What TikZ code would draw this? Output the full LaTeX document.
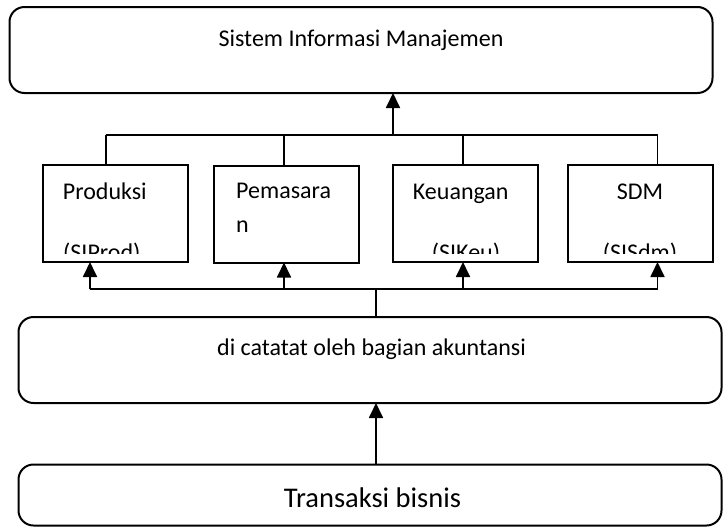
\documentclass[tikz,border=0pt]{standalone}
\usepackage{fontspec}
\setmainfont{Carlito}
\usetikzlibrary{arrows.meta}
\tikzset{
  kotak/.style={draw,line width=2pt,inner sep=0pt,outer sep=0pt,minimum width=145pt,minimum height=97pt},
  kotakbulat/.style={draw,line width=2pt,rounded corners=15pt,inner sep=0pt,outer sep=0pt,minimum width=703pt},
  garis/.style={line width=1.8pt},
  panah/.style={line width=1.8pt,-{Triangle[width=14pt,length=15pt]}},
  teks/.style={inner sep=0pt,font=\fontsize{24}{29}\selectfont}
}
\begin{document}
\begin{tikzpicture}
        [x=1pt,y=-1pt]
        \useasboundingbox (0,0) rectangle (723,528);
        \node[kotakbulat,minimum height=86pt] (SIM) at (361,50) {};
        \node[kotak] (Prod) at (115,213.5) {};
        \node[kotak] (Pem) at (286.5,214) {};
        \node[kotak] (Keu) at (465,213.5) {};
        \node[kotak] (SDM) at (640.5,213.5) {};
        \node[kotakbulat,minimum height=86pt] (Akt) at (370,360) {};
        \node[kotakbulat,minimum height=61pt] (Trx) at (370,495) {};

        \node[teks,anchor=base] (tSIM) at (361,46) {Sistem Informasi Manajemen};
        \node[teks,anchor=base] (tAkt) at (371.5,355) {di catatat oleh bagian akuntansi};
        \node[teks,anchor=base,font=\fontsize{28.5}{34}\selectfont] (tTrx) at (372.5,507.5) {Transaksi bisnis};

        \begin{scope}
          \clip (42,164) rectangle (188,253) (213,164) rectangle (360,253)
                (392,164) rectangle (538,253) (567,164) rectangle (714,253);
          \node[teks,anchor=base west] (tProd) at (62.7,199) {Produksi};
          \node[teks,anchor=base west] (tProd2) at (63,260.5) {(SIProd)};
          \node[teks,anchor=base west] (tPem) at (236,198) {Pemasara};
          \node[teks,anchor=base west] (tPem2) at (236,232.5) {n};
          \node[teks,anchor=base west] (tKeu) at (412.7,199) {Keuangan};
          \node[teks,anchor=base] (tKeu2) at (466,260.5) {(SIKeu)};
          \node[teks,anchor=base] (tSDM) at (640,199) {SDM};
          \node[teks,anchor=base] (tSDM2) at (640,260.5) {(SISdm)};
        \end{scope}

        % ke atas: Sistem Informasi Manajemen
        \coordinate (busatas) at (393,135);
        \coordinate (a1) at ([xshift=-9]Prod.north);
        \coordinate (a2) at ([xshift=-2.5]Pem.north);
        \coordinate (a3) at ([xshift=-2]Keu.north);
        \coordinate (a4) at ([xshift=17]SDM.north);
        \draw[panah] (busatas) -- (busatas |- SIM.south);
        \draw[garis] (a1 |- busatas) -- (a4 |- busatas);
        \draw[garis] (a1) -- (a1 |- busatas);
        \draw[garis] (a2) -- (a2 |- busatas);
        \draw[garis] (a3) -- (a3 |- busatas);
        \draw[garis] (a4) -- (a4 |- busatas);

        % dari bagian akuntansi
        \coordinate (busbawah) at (376,289);
        \coordinate (b1) at ([xshift=-25]Prod.south);
        \coordinate (b2) at ([xshift=-2.5]Pem.south);
        \coordinate (b3) at ([xshift=-2]Keu.south);
        \coordinate (b4) at ([xshift=17]SDM.south);
        \draw[garis] (busbawah |- Akt.north) -- (busbawah);
        \draw[garis] (b1 |- busbawah) -- (b4 |- busbawah);
        \draw[panah] (b1 |- busbawah) -- (b1);
        \draw[panah] (b2 |- busbawah) -- (b2);
        \draw[panah] (b3 |- busbawah) -- (b3);
        \draw[panah] (b4 |- busbawah) -- (b4);

        \draw[panah] ([xshift=6]Trx.north) -- ([xshift=6]Akt.south);
      \end{tikzpicture}
\end{document}
